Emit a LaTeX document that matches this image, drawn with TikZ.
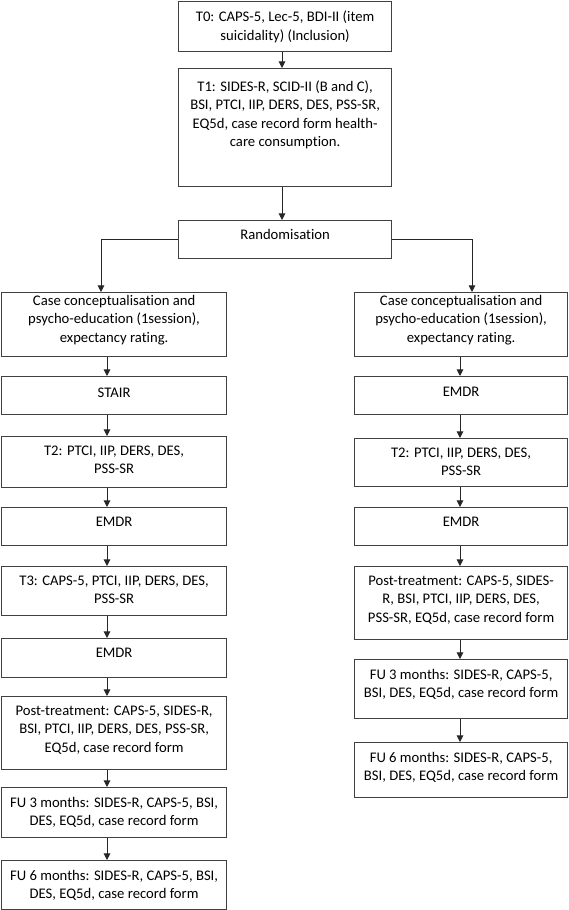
\documentclass[tikz,border=0pt]{standalone}
\usepackage{fontspec}
\setmainfont{Carlito}[Ligatures=NoCommon]
\usepackage{tikz}
\usetikzlibrary{arrows.meta}

% box text: [top pad], width, height, lines (top aligned)
\newcommand{\cellbox}[4][7.1pt]{\parbox[t][#3][t]{#2}{\centering\fontsize{11}{13.7}\selectfont\vspace*{#1}#4}}

\begin{document}
\begin{tikzpicture}[x=0.75pt, y=-0.75pt,
				   every node/.style={draw=black!75, line width=0.9pt, inner sep=0pt, anchor=north west},
				   arr/.style={draw=black!85, line width=0.75pt, -{Triangle[length=5pt, width=5pt]}}]
\useasboundingbox (0,0) rectangle (568,910);
% top
\node (t0) at (178,1) {\cellbox{159.75pt}{37.5pt}{T0: CAPS-5, Lec-5, BDI-II (item\\suicidality) (Inclusion)}};
\node (t1) at (178,68) {\cellbox[9.2pt]{159.75pt}{88.5pt}{T1: SIDES-R, SCID-II (B and C),\\BSI, PTCI, IIP, DERS, DES, PSS-SR,\\EQ5d, case record form health-\\care consumption.}};
\node (rand) at (178,220) {\cellbox[6.4pt]{159.75pt}{28.5pt}{Randomisation}};
% left arm
\node (lcase) at (1,292) {\cellbox[2.2pt]{168.75pt}{48pt}{Case conceptualisation and\\psycho-education (1session),\\expectancy rating.}};
\node (lstair) at (1,376) {\cellbox[8.2pt]{168.75pt}{28.5pt}{STAIR}};
\node (lt2) at (1,436) {\cellbox{168.75pt}{38.25pt}{T2: PTCI, IIP, DERS, DES,\\PSS-SR}};
\node (lemdr1) at (1,507) {\cellbox{168.75pt}{28.5pt}{EMDR}};
\node (lt3) at (1,566) {\cellbox{168.75pt}{36.75pt}{T3: CAPS-5, PTCI, IIP, DERS, DES,\\PSS-SR}};
\node (lemdr2) at (1,638) {\cellbox{168.75pt}{29.25pt}{EMDR}};
\node (lpost) at (1,696) {\cellbox{168.75pt}{54.75pt}{Post-treatment: CAPS-5, SIDES-R,\\BSI, PTCI, IIP, DERS, DES, PSS-SR,\\EQ5d, case record form}};
\node (lfu3) at (1,787) {\cellbox{168.75pt}{37.5pt}{FU 3 months: SIDES-R, CAPS-5, BSI,\\DES, EQ5d, case record form}};
\node (lfu6) at (1,860) {\cellbox{168.75pt}{36.75pt}{FU 6 months: SIDES-R, CAPS-5, BSI,\\DES, EQ5d, case record form}};
% right arm
\node (rcase) at (354,292) {\cellbox[2.2pt]{159.75pt}{48pt}{Case conceptualisation and\\psycho-education (1session),\\expectancy rating.}};
\node (remdr1) at (354,376) {\cellbox[8.2pt]{159.75pt}{28.5pt}{EMDR}};
\node (rt2) at (354,438) {\cellbox{159.75pt}{36pt}{T2: PTCI, IIP, DERS, DES,\\PSS-SR}};
\node (remdr2) at (354,507) {\cellbox{159.75pt}{28.5pt}{EMDR}};
\node (rpost) at (354,566) {\cellbox{159.75pt}{54.75pt}{Post-treatment: CAPS-5, SIDES-\\R, BSI, PTCI, IIP, DERS, DES,\\PSS-SR, EQ5d, case record form}};
\node (rfu3) at (354,659) {\cellbox{159.75pt}{44.25pt}{FU 3 months: SIDES-R, CAPS-5,\\BSI, DES, EQ5d, case record form}};
\node (rfu6) at (354,742) {\cellbox{159.75pt}{41.25pt}{FU 6 months: SIDES-R, CAPS-5,\\BSI, DES, EQ5d, case record form}};

\coordinate (mid) at (282,0);
\coordinate (brL) at (101,0);
\coordinate (brR) at (472,0);
\coordinate (colL) at (107,0);
\coordinate (colR) at (460,0);

\draw[arr] (t0.south -| mid) -- (t1.north -| mid);
\draw[arr] (t1.south -| mid) -- (rand.north -| mid);
\draw[arr] (rand.west) -| (lcase.north -| brL);
\draw[arr] (rand.east) -| (rcase.north -| brR);
\foreach \a/\b in {lcase/lstair, lstair/lt2, lt2/lemdr1, lemdr1/lt3, lt3/lemdr2, lemdr2/lpost, lpost/lfu3, lfu3/lfu6}
	\draw[arr] (\a.south -| colL) -- (\b.north -| colL);
\foreach \a/\b in {rcase/remdr1, remdr1/rt2, rt2/remdr2, remdr2/rpost, rpost/rfu3, rfu3/rfu6}
	\draw[arr] (\a.south -| colR) -- (\b.north -| colR);
\end{tikzpicture}
\end{document}
